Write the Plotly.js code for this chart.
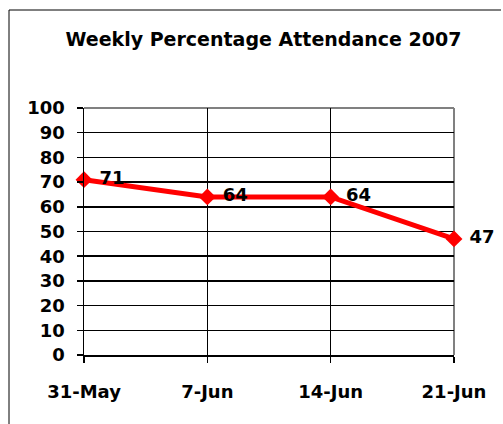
<!DOCTYPE html>
<html>
<head>
<meta charset="utf-8">
<script src="https://cdn.plot.ly/plotly-3.0.1.min.js"></script>
<style>
html,body{margin:0;padding:0;background:#fff;}
#chart{width:503px;height:424px;}
</style>
</head>
<body>
<div id="chart"></div>
<script>
var categories = ["31-May", "7-Jun", "14-Jun", "21-Jun"];
var attendance = [71, 64, 64, 47];
var yTickVals = [0, 10, 20, 30, 40, 50, 60, 70, 80, 90, 100];
var chartTitle = "Weekly Percentage Attendance 2007";

var W = 503, H = 424;
var M = {l: 84, r: 49, t: 108, b: 69};
var pw = W - M.l - M.r, ph = H - M.t - M.b;
function px2x(p){ return (p - M.l) / pw; }
function px2y(p){ return (H - M.b - p) / ph; }

var FONT = "DejaVu Sans, Arial, sans-serif";

var trace = {
  x: [0, 1, 2, 3],
  y: attendance,
  type: "scatter",
  mode: "lines+markers+text",
  line: {color: "#FF0000", width: 5},
  marker: {symbol: "diamond", size: 13, color: "#FF0000"},
  text: attendance.map(function(v){ return " " + v; }),
  textposition: "middle right",
  textfont: {family: FONT, size: 18, color: "#000", weight: "bold"},
  cliponaxis: false,
  hoverinfo: "skip"
};

var layout = {
  width: W, height: H,
  margin: M,
  paper_bgcolor: "#fff",
  plot_bgcolor: "#fff",
  showlegend: false,
  title: {
    text: chartTitle,
    font: {family: FONT, size: 19, color: "#000", weight: "bold"},
    xref: "paper", x: 0.485, xanchor: "center",
    yref: "container", y: 1 - 39/H, yanchor: "middle"
  },
  xaxis: {
    range: [0, 3],
    tickvals: [0, 1, 2, 3],
    ticktext: categories,
    showgrid: true, gridcolor: "#000", gridwidth: 1.5,
    showline: true, linecolor: "#000", linewidth: 1.5,
    ticks: "outside", ticklen: 6, tickcolor: "#000", tickwidth: 1.5,
    ticklabelstandoff: 14,
    zeroline: false,
    tickfont: {family: FONT, size: 18, color: "#000", weight: "bold"},
    fixedrange: true
  },
  yaxis: {
    range: [0, 100],
    tickvals: yTickVals,
    showgrid: true, gridcolor: "#000", gridwidth: 1.5,
    showline: true, linecolor: "#000", linewidth: 1.5,
    ticks: "outside", ticklen: 6, tickcolor: "#000", tickwidth: 1.5,
    ticklabelstandoff: 8,
    zeroline: false,
    tickfont: {family: FONT, size: 18, color: "#000", weight: "bold"},
    fixedrange: true
  },
  shapes: [
    {type: "line", xref: "paper", yref: "paper", x0: 0, x1: 1, y0: 1, y1: 1,
     line: {color: "#808080", width: 2}, layer: "between"},
    {type: "line", xref: "paper", yref: "paper", x0: 1, x1: 1, y0: 0, y1: 1,
     line: {color: "#808080", width: 2}, layer: "between"},
    {type: "line", xref: "paper", yref: "paper", x0: px2x(9), x1: px2x(501), y0: px2y(10), y1: px2y(10),
     line: {color: "#000", width: 1}},
    {type: "line", xref: "paper", yref: "paper", x0: px2x(9), x1: px2x(9), y0: px2y(10), y1: px2y(430),
     line: {color: "#000", width: 1}}
  ]
};

Plotly.newPlot("chart", [trace], layout, {staticPlot: true, displayModeBar: false});
</script>
</body>
</html>
